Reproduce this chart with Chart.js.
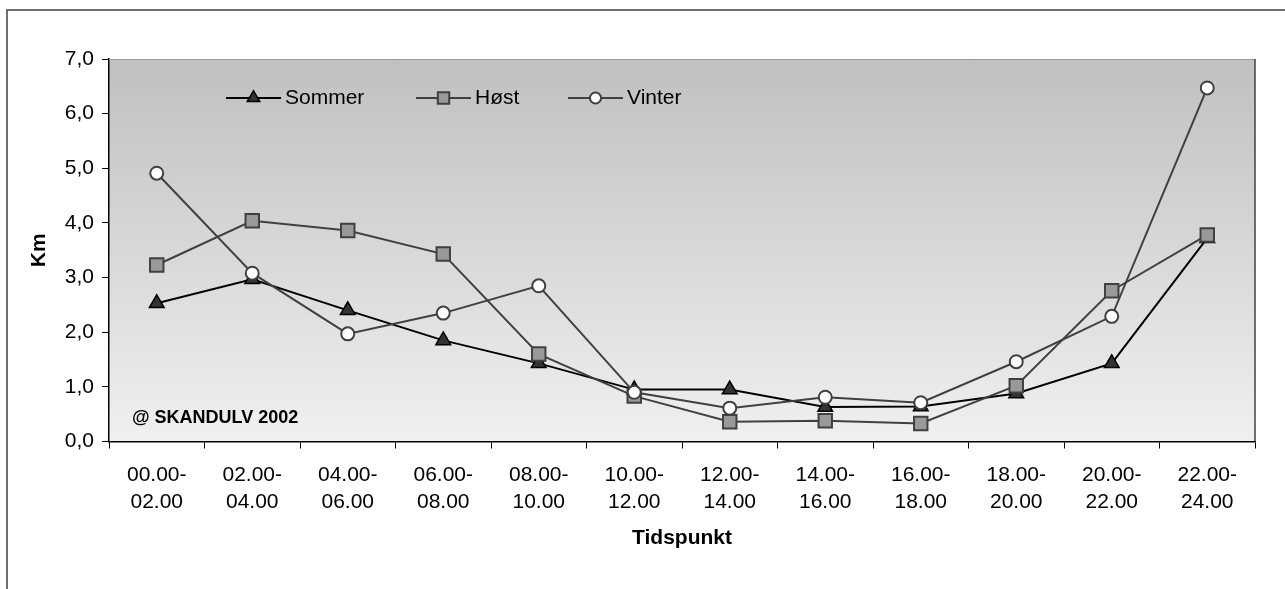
<!DOCTYPE html>
<html lang="no">
<head>
<meta charset="UTF-8">
<title>Km per tidspunkt</title>
<script src="https://cdn.jsdelivr.net/npm/chart.js"></script>
<style>
    html, body { margin: 0; padding: 0; background: #fff; }
    .chart-box { position: relative; width: 1285px; height: 589px; }
</style>
</head>
<body>
<div class="chart-box"><canvas id="kmChart"></canvas></div>
<script>
    // data
    const categories = [
        ['00.00-', '02.00'], ['02.00-', '04.00'], ['04.00-', '06.00'], ['06.00-', '08.00'],
        ['08.00-', '10.00'], ['10.00-', '12.00'], ['12.00-', '14.00'], ['14.00-', '16.00'],
        ['16.00-', '18.00'], ['18.00-', '20.00'], ['20.00-', '22.00'], ['22.00-', '24.00']
    ];
    const sommer = [2.53, 2.97, 2.40, 1.85, 1.43, 0.95, 0.95, 0.63, 0.64, 0.88, 1.43, 3.72];
    const host   = [3.23, 4.04, 3.86, 3.43, 1.60, 0.83, 0.36, 0.38, 0.33, 1.02, 2.76, 3.78];
    const vinter = [4.91, 3.08, 1.97, 2.35, 2.85, 0.90, 0.61, 0.81, 0.71, 1.46, 2.29, 6.47];
    const yMin = 0, yMax = 7, yStep = 1;

    const FONT = "'Liberation Sans', Arial, sans-serif";

    const seriesStyle = [
        { label: 'Sommer', data: sommer, line: '#000000', width: 2, point: 'triangle', radius: 8.5, fill: '#333333', border: '#000000', pw: 1.5 },
        { label: 'Høst', data: host, line: '#404040', width: 2, point: 'rect', radius: 9.5, fill: '#999999', border: '#404040', pw: 2 },
        { label: 'Vinter', data: vinter, line: '#404040', width: 2, point: 'circle', radius: 6.5, fill: '#ffffff', border: '#404040', pw: 2 }
    ];

    const framePlugin = {
        id: 'frame',
        beforeDraw(chart) {
            const { ctx, chartArea: a, width, height } = chart;
            ctx.save();
            // outer frame (left + top only visible)
            ctx.strokeStyle = '#404040';
            ctx.lineWidth = 1.5;
            ctx.beginPath();
            ctx.moveTo(7, height);
            ctx.lineTo(7, 10);
            ctx.lineTo(width, 10);
            ctx.stroke();
            // plot background gradient
            const g = ctx.createLinearGradient(0, a.top, 0, a.bottom);
            g.addColorStop(0, '#c0c0c0');
            g.addColorStop(1, '#f0f0f0');
            ctx.fillStyle = g;
            ctx.fillRect(a.left, a.top, a.right - a.left, a.bottom - a.top);
            ctx.restore();
        },
        beforeDatasetsDraw(chart) {
            const { ctx, chartArea: a } = chart;
            ctx.save();
            ctx.strokeStyle = '#9a9a9a';
            ctx.lineWidth = 1;
            ctx.beginPath();
            ctx.moveTo(a.left, a.top + 0.5);
            ctx.lineTo(a.right, a.top + 0.5);
            ctx.stroke();
            ctx.strokeStyle = '#404040';
            ctx.lineWidth = 1.5;
            ctx.beginPath();
            ctx.moveTo(a.right, a.top);
            ctx.lineTo(a.right, a.bottom);
            ctx.stroke();

            // watermark
            ctx.fillStyle = '#000';
            ctx.font = 'bold 18px ' + FONT;
            ctx.textBaseline = 'middle';
            ctx.textAlign = 'left';
            ctx.fillText('@ SKANDULV 2002', a.left + 23, a.bottom - 23);

            // legend: line + marker + label
            const starts = [117, 307, 459];
            const y = a.top + 39;
            seriesStyle.forEach((s, i) => {
                const x0 = a.left + starts[i];
                ctx.strokeStyle = s.line;
                ctx.lineWidth = s.width;
                ctx.beginPath();
                ctx.moveTo(x0, y);
                ctx.lineTo(x0 + 55, y);
                ctx.stroke();
                ctx.fillStyle = s.fill;
                ctx.strokeStyle = s.border;
                ctx.lineWidth = s.pw;
                Chart.helpers.drawPoint(ctx, { pointStyle: s.point, radius: s.radius * 0.85, rotation: 0, borderWidth: s.pw }, x0 + 27.5, y);
                ctx.fillStyle = '#000';
                ctx.font = '21px ' + FONT;
                ctx.textBaseline = 'middle';
                ctx.fillText(s.label, x0 + 59, y);
            });
            ctx.restore();
        }
    };

    const ctx = document.getElementById('kmChart').getContext('2d');
    new Chart(ctx, {
        type: 'line',
        data: {
            labels: categories,
            datasets: seriesStyle.map((s, i) => ({
                label: s.label,
                data: s.data,
                borderColor: s.line,
                borderWidth: s.width,
                pointStyle: s.point,
                pointRadius: s.radius,
                pointHoverRadius: s.radius,
                pointBackgroundColor: s.fill,
                pointBorderColor: s.border,
                pointBorderWidth: s.pw,
                tension: 0,
                order: 3 - i
            }))
        },
        options: {
            responsive: true,
            maintainAspectRatio: false,
            animation: false,
            layout: { padding: { left: 0, top: 59, right: 30, bottom: 0 } },
            plugins: {
                legend: { display: false },
                tooltip: { enabled: false }
            },
            scales: {
                x: {
                    offset: true,
                    grid: { offset: true, drawOnChartArea: false, tickLength: 7, color: '#000' },
                    border: { color: '#000', width: 1.5 },
                    ticks: { color: '#000', font: { family: FONT, size: 21, lineHeight: 1.3 }, padding: 13, maxRotation: 0 },
                    title: { display: true, text: 'Tidspunkt', color: '#000', font: { family: FONT, size: 21, weight: 'bold' }, padding: { top: 0, bottom: 38 } },
                    afterFit(scale) { scale.height = 589 - 441.5; }
                },
                y: {
                    min: yMin,
                    max: yMax,
                    grid: { drawOnChartArea: false, tickLength: 7, color: '#000' },
                    border: { color: '#000', width: 1.5 },
                    ticks: {
                        stepSize: yStep,
                        color: '#000',
                        padding: 8,
                        font: { family: FONT, size: 21 },
                        callback: v => v.toFixed(1).replace('.', ',')
                    },
                    title: { display: true, text: 'Km', color: '#000', font: { family: FONT, size: 21, weight: 'bold' }, padding: { top: 27, bottom: 0 } },
                    afterFit(scale) { scale.width = 109; }
                }
            }
        },
        plugins: [framePlugin]
    });
</script>
</body>
</html>
